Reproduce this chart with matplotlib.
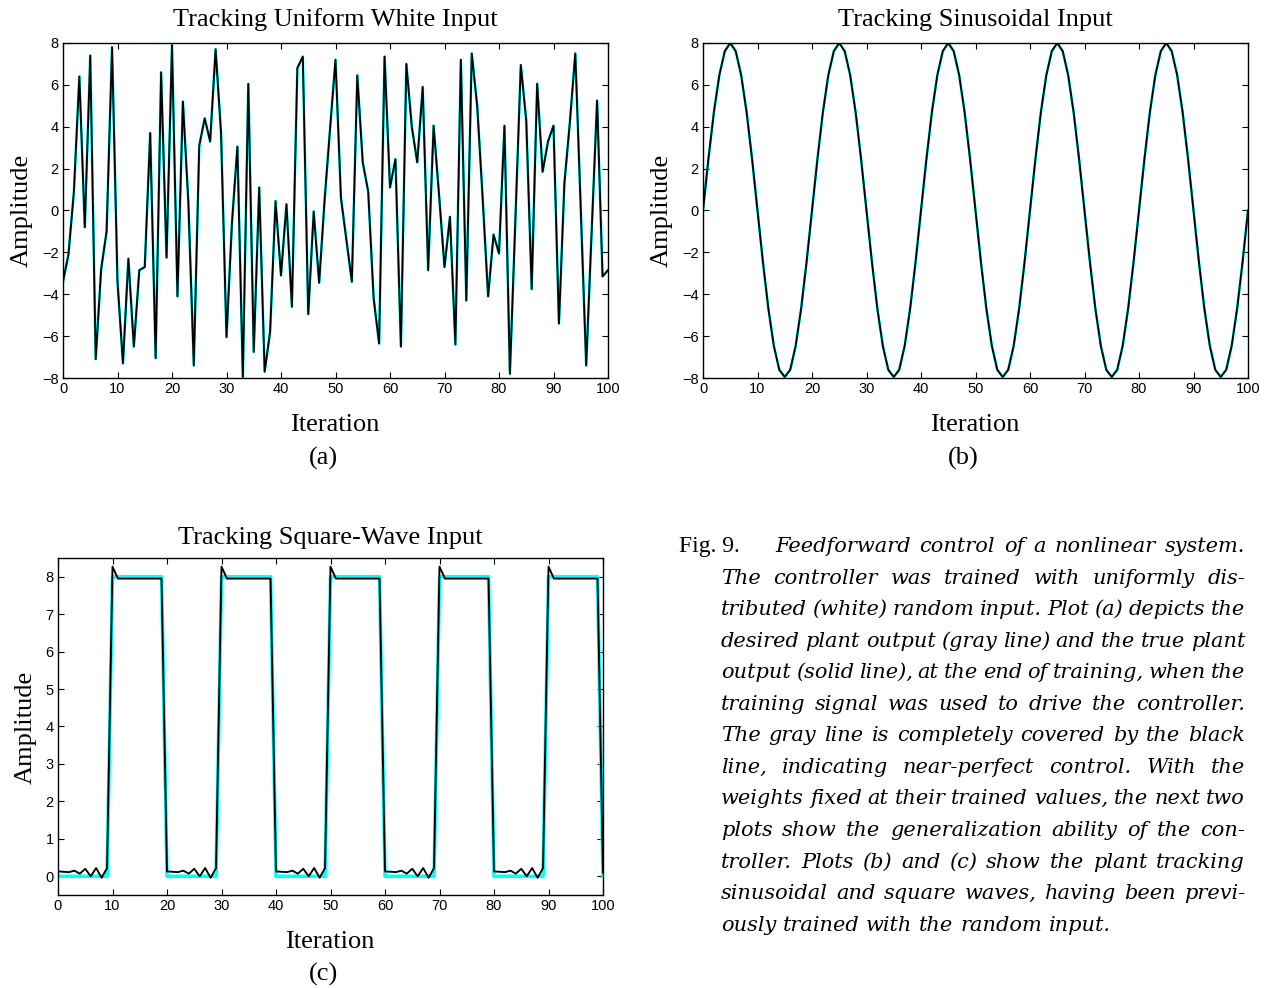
import matplotlib
matplotlib.use("Agg")
import matplotlib.pyplot as plt
from matplotlib.font_manager import FontProperties

# ---------------- data ----------------
iteration = list(range(101))

white_output = [-3.4, -2.1, 0.9, 6.4, -0.8, 7.4, -7.1, -2.8, -1.0, 7.8,
                -3.4, -7.3, -2.3, -6.5, -2.85, -2.7, 3.7, -7.05, 6.6, -2.25,
                7.9, -4.1, 5.2, 0.4, -7.4, 3.1, 4.4, 3.3, 7.7, 3.7,
                -6.05, -0.6, 3.05, -7.95, 6.05, -6.75, 1.1, -7.7, -5.8, 0.45,
                -3.1, 0.3, -4.6, 6.8, 7.35, -4.95, -0.05, -3.45, 0.5, 3.9,
                7.2, 0.6, -1.4, -3.4, 6.45, 2.3, 0.9, -4.2, -6.35, 7.35,
                1.1, 2.45, -6.5, 7.0, 4.0, 2.3, 5.9, -2.85, 4.05, 0.75,
                -2.7, -0.3, -6.4, 7.2, -4.3, 7.5, 5.0, 0.6, -4.1, -1.15,
                -2.05, 4.05, -7.8, -0.5, 6.95, 4.3, -3.75, 6.05, 1.85, 3.3,
                4.05, -5.4, 1.3, 4.2, 7.5, 0.1, -7.4, -1.0, 5.25, -3.15,
                -2.85]
white_desired = list(white_output)

sine_output = [0.0, 2.47, 4.70, 6.47, 7.61, 8.0, 7.61, 6.47, 4.70, 2.47,
               0.0, -2.47, -4.70, -6.47, -7.61, -7.95, -7.61, -6.47, -4.70, -2.47,
               0.0, 2.47, 4.70, 6.47, 7.61, 8.0, 7.61, 6.47, 4.70, 2.47,
               0.0, -2.47, -4.70, -6.47, -7.61, -7.95, -7.61, -6.47, -4.70, -2.47,
               0.0, 2.47, 4.70, 6.47, 7.61, 8.0, 7.61, 6.47, 4.70, 2.47,
               0.0, -2.47, -4.70, -6.47, -7.61, -7.95, -7.61, -6.47, -4.70, -2.47,
               0.0, 2.47, 4.70, 6.47, 7.61, 8.0, 7.61, 6.47, 4.70, 2.47,
               0.0, -2.47, -4.70, -6.47, -7.61, -7.95, -7.61, -6.47, -4.70, -2.47,
               0.0, 2.47, 4.70, 6.47, 7.61, 8.0, 7.61, 6.47, 4.70, 2.47,
               0.0, -2.47, -4.70, -6.47, -7.61, -7.95, -7.61, -6.47, -4.70, -2.47,
               0.0]
sine_desired = list(sine_output)

square_desired = [0, 0, 0, 0, 0, 0, 0, 0, 0, 0,
                  8, 8, 8, 8, 8, 8, 8, 8, 8, 8,
                  0, 0, 0, 0, 0, 0, 0, 0, 0, 0,
                  8, 8, 8, 8, 8, 8, 8, 8, 8, 8,
                  0, 0, 0, 0, 0, 0, 0, 0, 0, 0,
                  8, 8, 8, 8, 8, 8, 8, 8, 8, 8,
                  0, 0, 0, 0, 0, 0, 0, 0, 0, 0,
                  8, 8, 8, 8, 8, 8, 8, 8, 8, 8,
                  0, 0, 0, 0, 0, 0, 0, 0, 0, 0,
                  8, 8, 8, 8, 8, 8, 8, 8, 8, 8,
                  0]
square_output = [0.13, 0.12, 0.11, 0.15, 0.07, 0.2, 0.0, 0.22, -0.04, 0.22,
                 8.27, 7.95, 7.95, 7.95, 7.95, 7.95, 7.95, 7.95, 7.95, 7.95,
                 0.13, 0.12, 0.11, 0.15, 0.07, 0.2, 0.0, 0.22, -0.04, 0.22,
                 8.27, 7.95, 7.95, 7.95, 7.95, 7.95, 7.95, 7.95, 7.95, 7.95,
                 0.13, 0.12, 0.11, 0.15, 0.07, 0.2, 0.0, 0.22, -0.04, 0.22,
                 8.27, 7.95, 7.95, 7.95, 7.95, 7.95, 7.95, 7.95, 7.95, 7.95,
                 0.13, 0.12, 0.11, 0.15, 0.07, 0.2, 0.0, 0.22, -0.04, 0.22,
                 8.27, 7.95, 7.95, 7.95, 7.95, 7.95, 7.95, 7.95, 7.95, 7.95,
                 0.13, 0.12, 0.11, 0.15, 0.07, 0.2, 0.0, 0.22, -0.04, 0.22,
                 8.27, 7.95, 7.95, 7.95, 7.95, 7.95, 7.95, 7.95, 7.95, 7.95,
                 0.1]

x_ticks = [0, 10, 20, 30, 40, 50, 60, 70, 80, 90, 100]
y_ticks_ab = [-8, -6, -4, -2, 0, 2, 4, 6, 8]
y_ticks_c = [0, 1, 2, 3, 4, 5, 6, 7, 8]

titles = ["Tracking Uniform White Input", "Tracking Sinusoidal Input",
          "Tracking Square-Wave Input"]
panel_labels = ["(a)", "(b)", "(c)"]

caption_lines = [
    "Feedforward control of a nonlinear system.",
    "The controller was trained with uniformly dis-",
    "tributed (white) random input. Plot (a) depicts the",
    "desired plant output (gray line) and the true plant",
    "output (solid line), at the end of training, when the",
    "training signal was used to drive the controller.",
    "The gray line is completely covered by the black",
    "line, indicating near-perfect control.  With the",
    "weights fixed at their trained values, the next two",
    "plots show the generalization ability of the con-",
    "troller. Plots (b) and (c) show the plant tracking",
    "sinusoidal and square waves, having been previ-",
    "ously trained with the random input.",
]

# ---------------- figure ----------------
W, H = 1268, 988
fig = plt.figure(figsize=(W / 100, H / 100), dpi=100)
fig.patch.set_facecolor("white")

serif = "Liberation Serif"
sans = "Liberation Sans"


def add_axes_px(left, right, top, bottom):
    return fig.add_axes([left / W, 1 - bottom / H, (right - left) / W, (bottom - top) / H])


def style(ax, yticks, ylim):
    ax.set_xlim(0, 100)
    ax.set_ylim(*ylim)
    ax.set_xticks(x_ticks)
    ax.set_yticks(yticks)
    ax.tick_params(direction="in", top=True, right=True, length=4, width=0.8,
                   labelsize=10.5, pad=3)
    for sp in ax.spines.values():
        sp.set_linewidth(1.0)
    ax.set_yticklabels([("\u2212" + str(-v)) if v < 0 else str(v) for v in yticks])
    for lab in ax.get_xticklabels() + ax.get_yticklabels():
        lab.set_fontfamily(sans)


def draw(ax, desired, output):
    ax.plot(iteration, desired, color="#00ffff", lw=1.9)
    ax.plot(iteration, output, color="black", lw=1.35)


ax_a = add_axes_px(63, 608, 43, 378)
draw(ax_a, white_desired, white_output)
style(ax_a, y_ticks_ab, (-8, 8))

ax_b = add_axes_px(703, 1248, 43, 378)
draw(ax_b, sine_desired, sine_output)
style(ax_b, y_ticks_ab, (-8, 8))

ax_c = add_axes_px(58, 603, 558, 895)
ax_c.plot(iteration, square_desired, color="#00ffff", lw=2.6)
ax_c.plot(iteration, square_output, color="black", lw=1.35)
style(ax_c, y_ticks_c, (-0.5, 8.5))


def ftext(x, y, s, **kw):
    return fig.text(x / W, 1 - y / H, s, **kw)


# titles, labels
lab_kw = dict(family=serif, fontsize=19, ha="center", va="center")
ftext(335, 20, titles[0], **lab_kw)
ftext(975, 20, titles[1], **lab_kw)
ftext(330, 538, titles[2], **lab_kw)

ftext(335, 425, "Iteration", **lab_kw)
ftext(975, 425, "Iteration", **lab_kw)
ftext(330, 942, "Iteration", **lab_kw)

ftext(323, 458, panel_labels[0], **lab_kw)
ftext(963, 458, panel_labels[1], **lab_kw)
ftext(323, 974, panel_labels[2], **lab_kw)

ftext(22, 210, "Amplitude", rotation=90, **lab_kw)
ftext(662, 210, "Amplitude", rotation=90, **lab_kw)
ftext(26, 727, "Amplitude", rotation=90, **lab_kw)

# ---------------- caption (justified) ----------------
fig.canvas.draw()
renderer = fig.canvas.get_renderer()
fp_it = FontProperties(family="DejaVu Serif", style="italic", size=15)
fp_up = FontProperties(family=serif, style="normal", size=17)


def wpx(s, fp):
    w, h, d = renderer.get_text_width_height_descent(s, fp, ismath=False)
    return w


right_edge = 1245
base0 = 552
line_gap = 31.55

ftext(679, base0, "Fig. 9.", fontproperties=fp_up, ha="left", va="baseline")

for i, line in enumerate(caption_lines):
    y = base0 + i * line_gap
    left = 775 if i == 0 else 721
    words = line.split()
    widths = [wpx(w, fp_it) for w in words]
    last = i == len(caption_lines) - 1
    if last or len(words) == 1:
        gap = wpx("a b", fp_it) - wpx("ab", fp_it)
    else:
        gap = (right_edge - left - sum(widths)) / (len(words) - 1)
    x = left
    for w, wd in zip(words, widths):
        ftext(x, y, w, fontproperties=fp_it, ha="left", va="baseline")
        x += wd + gap

fig.savefig("out.png", dpi=100, facecolor="white")
